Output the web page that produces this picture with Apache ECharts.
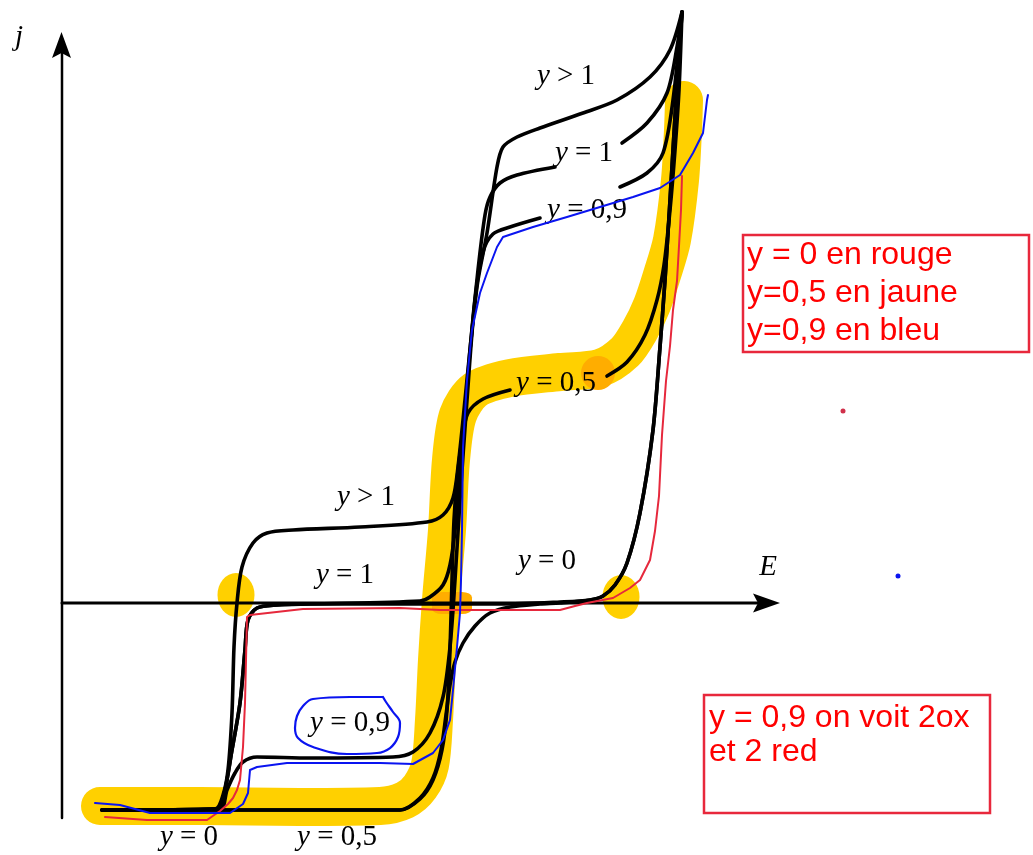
<!DOCTYPE html>
<html>
<head>
<meta charset="utf-8">
<script src="https://cdn.jsdelivr.net/npm/echarts@6/dist/echarts.min.js"></script>
<style>html,body{margin:0;padding:0;background:#fff}#c{width:1033px;height:855px}</style>
</head>
<body>
<div id="c"></div>
<script>
// ---- data (E, j) in arbitrary units ----
const curveYgt1 = [[4.0,-20.7],[15.3,-20.6],[16.1,-19.2],[16.6,-16.7],[17.0,-11.0],[17.2,-4.4],[17.5,0],[18.0,3.6],[19.1,6.0],[20.5,7.0],[23.1,7.3],[29.8,7.6],[36.5,8.1],[38.1,8.8],[39.1,10.5],[39.6,13.6],[40.3,20.3],[41.0,27.3],[41.6,32.3],[42.5,37.0],[43.5,43.6],[44.1,45.6],[45.5,46.6],[47.8,47.5],[52.1,49.0],[55.5,50.3],[58.8,52.6],[60.8,55.3],[62.0,59.1]];
const curveY1 = [[4.0,-20.7],[15.6,-20.6],[16.2,-19.2],[17.0,-14.7],[17.8,-10.0],[18.3,-4.7],[18.6,-1.7],[19.5,-0.5],[21.5,-0.2],[24.8,-0.1],[35.8,0.2],[36.8,0.6],[38.1,1.8],[38.8,3.8],[39.3,7.3],[40.0,15.3],[40.8,25.3],[41.6,33.3],[42.3,38.8],[42.8,40.6],[43.8,42.0],[45.5,42.8],[49.3,43.6],null,[56.0,46.0],[58.5,48.0],[60.5,51.0],[61.5,55.6],[62.0,59.1]];
const curveY09 = [[4.0,-20.7],[15.8,-20.6],[16.5,-18.7],[17.3,-17.0],[18.1,-15.9],[19.5,-15.4],[24.8,-15.5],[33.1,-15.4],[35.1,-14.9],[36.8,-13.0],[38.1,-9.4],[38.8,-4.4],[39.3,2.3],[39.8,10.3],[40.5,20.3],[41.3,30.3],[42.1,35.1],[43.1,36.9],[44.8,37.6],[47.8,38.5],null,[55.8,41.6],[58.5,43.0],[60.1,45.0],[61.1,50.3],[62.0,59.1]];
const curveY0 = [[4.0,-20.7],[15.6,-20.6],[16.2,-19.2],[17.0,-14.7],[17.8,-10.0],[18.3,-4.7],[18.6,-1.7],[19.5,-0.5],[21.5,-0.2],[24.8,-0.1],[35.8,-0.1],[43.8,-0.1],[49.8,0.1],[52.8,0.3],[54.1,0.7],[55.3,1.8],[56.5,4.0],[57.8,9.0],[59.1,17.3],[59.8,25.6],[60.3,32.3],[60.8,40.3],[61.4,50.3],[62.0,59.1]];
const curveY0b = [[4.0,-20.7],[33.8,-20.7],[35.8,-19.5],[37.1,-17.5],[37.9,-14.7],[38.4,-11.2],[38.8,-8.2],[39.3,-5.9],[40.1,-4.0],[41.3,-2.3],[42.8,-1.0],[44.8,-0.4],[47.8,-0.1],[49.8,0.0],[52.8,0.3],[54.1,0.7],[55.3,1.8],[56.5,4.0],[57.8,9.0],[59.1,17.3],[59.8,25.6],[60.3,32.3],[60.8,40.3],[61.4,50.3],[62.0,59.1]];
const curveY05 = [[4.0,-20.7],[33.8,-20.7],[35.8,-19.6],[37.1,-17.7],[38.0,-14.7],[38.5,-10.7],[38.8,-4.7],[39.0,2.3],[39.2,8.3],[39.5,12.3],[40.0,16.3],[40.6,19.0],[42.1,20.4],[44.8,21.3],null,[54.5,22.7],[56.5,24.1],[58.3,26.8],[59.5,30.3],[60.2,33.8],[60.8,39.3],[61.3,45.3],[61.7,51.3],[62.0,59.1]];
const redY0 = [[4.3,-21.4],[8.5,-21.7],[14.5,-21.7],[15.8,-20.8],[16.6,-20.1],[17.1,-19.5],[17.5,-18.7],[17.8,-17.7],[18.1,-14.4],[18.3,-10.0],[18.5,-1.4],[18.8,-1.2],[24.1,-0.6],[33.8,-0.5],[37.8,-0.7],[49.8,-0.7],[51.3,-0.3],[52.5,0.0],[55.1,0.5],[56.8,1.5],[57.8,2.3],[58.8,4.3],[59.3,7.2],[59.7,10.7],[60.0,16.8],[60.4,22.2],[60.8,25.7],[61.1,29.3],[61.5,32.2],[61.7,35.7],[61.9,39.3],[62.0,42.7]];
const blueY09 = [[3.3,-20.0],[5.8,-20.2],[8.8,-21.0],[16.8,-21.0],[18.1,-20.1],[18.6,-19.0],[18.8,-16.7],[19.5,-16.4],[22.5,-16.0],[31.8,-16.0],[35.1,-16.1],[37.1,-15.0],[38.1,-13.7],[38.8,-11.7],[39.1,-8.7],[39.5,-4.4],[39.8,-1.0],[39.9,2.3],[40.0,7.3],[40.1,15.6],[40.5,22.3],[41.0,27.3],[41.8,31.0],[42.5,33.0],[43.5,35.6],[44.1,36.6],[47.1,37.6],[50.5,38.6],[53.8,39.6],[57.1,40.6],[59.8,41.5],[61.8,42.8],[63.1,45.0],[64.1,47.0],[64.5,50.3],[64.6,50.8]];
const yellowY05 = [[3.8,-20.3],[13.8,-20.3],[23.8,-20.4],[31.8,-20.3],[34.3,-19.7],[35.8,-18.4],[36.8,-16.2],[37.2,-11.7],[37.5,-5.7],[37.9,0.3],[38.5,7.3],[38.9,14.3],[39.6,18.8],[41.3,21.3],[44.8,22.5],[49.8,23.1],[53.8,23.5],[56.3,25.1],[57.8,27.3],[59.0,29.8],[60.0,32.8],[61.0,36.3],[61.8,42.3],[62.1,47.3],[62.2,50.3]];
const yellowBlobs = [[17.4,0.8],[55.9,0.6]];
const orangeCircle = [[53.6,23.0]];
const orangeRect = [[39.0,0.0]];
const blueLoop = [[32.1,-9.4],[28.8,-9.4],[25.1,-9.6],[24.1,-10.3],[23.5,-11.3],[23.3,-12.5],[23.6,-13.5],[25.1,-14.4],[28.5,-15.1],[31.5,-15.0],[32.8,-14.5],[33.6,-13.4],[33.8,-12.0],[33.1,-10.9],[32.4,-9.9],[32.1,-9.4]];
const strayRedDot = [[78.1,19.2]];
const strayBlueDot = [[83.6,2.7]];
const xAxisLine = [[0,0],[70.0,0]];
const yAxisLine = [[0,-21.5],[0,55.0]];
const xArrow = [[70.45,0]];
const yArrow = [[-0.05,55.8]];
const labelTexts = ['y > 1','y = 1','y = 0,9','y = 0,5','y > 1','y = 1','y = 0','y = 0,9','y = 0','y = 0,5','E','j'];
const labelE = [50.4,52.2,52.5,49.4,30.4,28.3,48.5,28.8,12.7,27.5,70.6,-4.3];
const labelJ = [52.7,45.0,39.3,22.0,10.6,2.8,4.2,-12.0,-23.4,-23.4,3.6,56.6];
const note1 = ['y = 0 en rouge','y=0,5 en jaune','y=0,9 en bleu'];
const note2 = ['y = 0,9 on voit 2ox','et 2 red'];

// ---- build ----
function segs(arr){const out=[[]];arr.forEach(p=>{if(p===null)out.push([]);else out[out.length-1].push(p);});return out.filter(s=>s.length>1);}
function lines(arr,color,width,z,smooth){return segs(arr).map(d=>({type:'line',data:d,symbol:'none',smooth:smooth,silent:true,clip:false,z:z,lineStyle:{color:color,width:width,cap:'round',join:'round',opacity:1}}));}
function dots(data,symbol,size,color,z){return {type:'scatter',data:data,symbol:symbol,symbolSize:size,itemStyle:{color:color,opacity:1},z:z,silent:true,clip:false};}
const BLACK='#000000', RED='#e6283c', BLUE='#0a14f0', YEL='#ffd000', ORA='#ffad00';
let series=[];
series=series.concat(lines(yellowY05,YEL,38,1,0.3));
series.push(dots(yellowBlobs,'circle',[37,44],YEL,1));
series.push(dots(orangeCircle,'circle',34,ORA,2));
series.push(dots(orangeRect,'roundRect',[40,22],ORA,2));
series=series.concat(lines(xAxisLine,BLACK,3,3,false));
series=series.concat(lines(yAxisLine,BLACK,2.5,3,false));
series.push(dots(xArrow,'path://M0,0 L27,9.5 L0,19 L5,9.5 Z',[27,19],BLACK,3));
series.push(dots(yArrow,'path://M9.5,0 L19,26 L9.5,21 L0,26 Z',[19,26],BLACK,3));
[curveYgt1,curveY1,curveY09,curveY0,curveY0b,curveY05].forEach(c=>{series=series.concat(lines(c,BLACK,3.6,3,0.3));});
series.push({type:'scatter',z:4,silent:true,clip:false,symbolSize:1,itemStyle:{color:'rgba(0,0,0,0)',opacity:1},
  data:labelTexts.map((t,i)=>[labelE[i],labelJ[i],t]),
  label:{show:true,position:'inside',formatter:p=>p.data[2].replace(/^([yEj])/,'{i|$1}'),
    fontFamily:'Liberation Serif',fontSize:29,color:'#000',opacity:1,
    rich:{i:{fontStyle:'italic',fontFamily:'Liberation Serif',fontSize:29,color:'#000'}}}});
series=series.concat(lines(redY0,RED,2,5,false));
series=series.concat(lines(blueY09,BLUE,2,5,false));
series=series.concat(lines(blueLoop,BLUE,2.2,5,0.4));
series.push(dots(strayRedDot,'circle',5,'#d0304a',5));
series.push(dots(strayBlueDot,'circle',5,BLUE,5));

const graphic=[
  {type:'rect',shape:{x:743,y:235,width:286,height:117},style:{fill:'none',stroke:'#e8283c',lineWidth:2.5},z:10},
  {type:'rect',shape:{x:704,y:695,width:286,height:118},style:{fill:'none',stroke:'#e8283c',lineWidth:2.5},z:10}
];
note1.forEach((t,i)=>graphic.push({type:'text',x:747,y:255+i*38,z:10,style:{text:t,fill:'#ff0000',font:'32px "Liberation Sans"',textVerticalAlign:'middle',verticalAlign:'middle'}}));
note2.forEach((t,i)=>graphic.push({type:'text',x:709,y:718+i*34,z:10,style:{text:t,fill:'#ff0000',font:'32px "Liberation Sans"',textVerticalAlign:'middle',verticalAlign:'middle'}}));

const chart=echarts.init(document.getElementById('c'),null,{renderer:'canvas'});
chart.setOption({
  animation:false,backgroundColor:'#ffffff',
  grid:{left:0,right:0,top:0,bottom:0},
  xAxis:{type:'value',min:-6.2,max:97.1,show:false},
  yAxis:{type:'value',min:-25.2,max:60.3,show:false},
  series:series,graphic:graphic
});
</script>
</body>
</html>
